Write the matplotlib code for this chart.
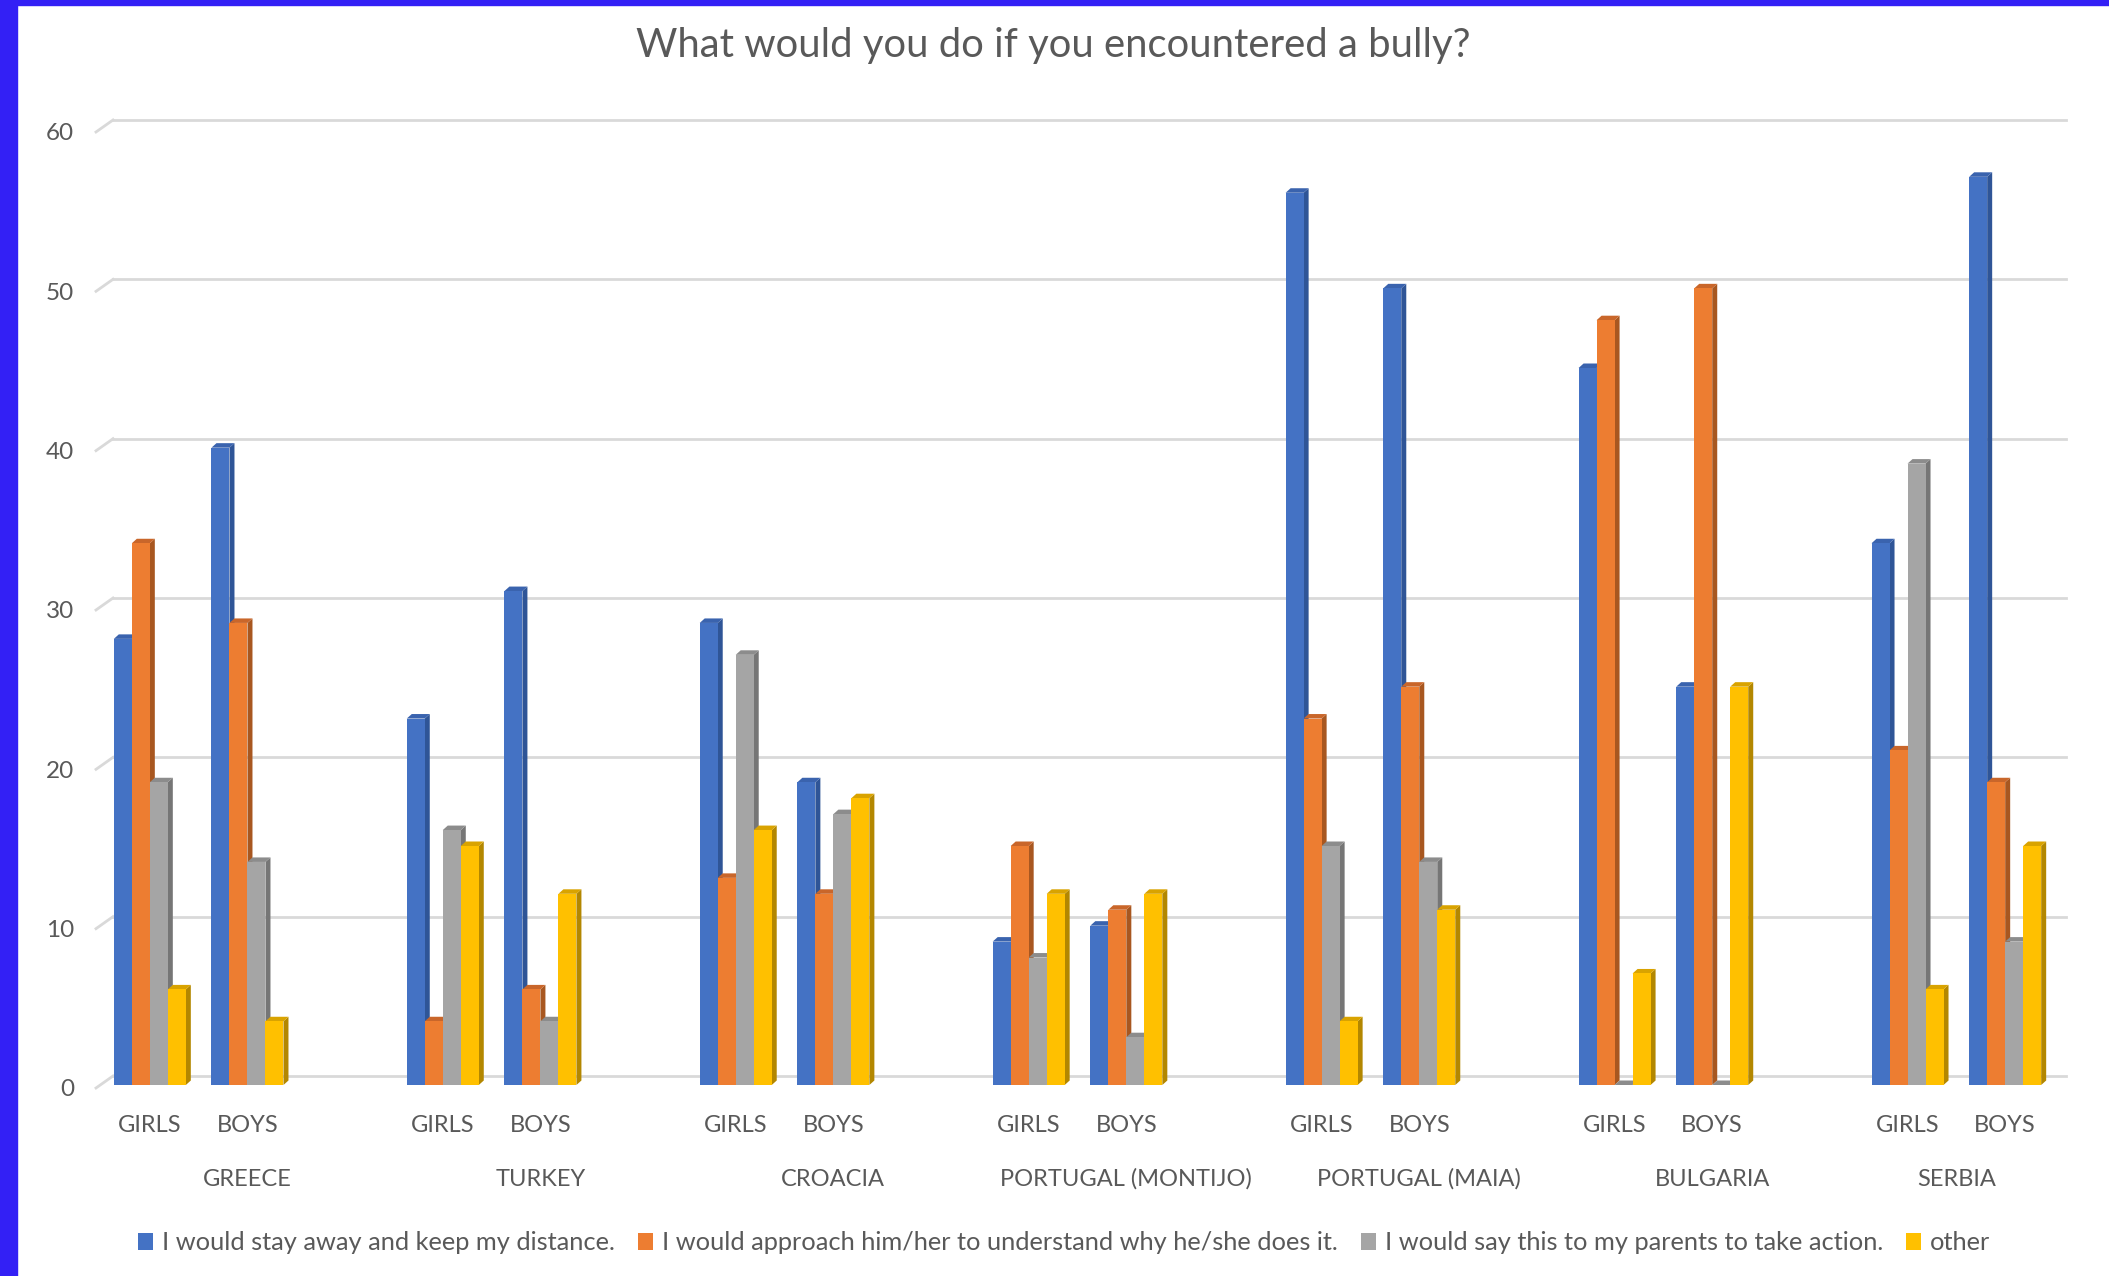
import matplotlib
matplotlib.use('Agg')
import matplotlib.pyplot as plt
from matplotlib.patches import Polygon, Rectangle

plt.rcParams['font.family'] = ['Lato', 'DejaVu Sans']

# data: girls / boys per country
countries = ['GREECE', 'TURKEY', 'CROACIA', 'PORTUGAL (MONTIJO)',
             'PORTUGAL (MAIA)', 'BULGARIA', 'SERBIA']
genders = ['GIRLS', 'BOYS']
answers = ['I would stay away and keep my distance.',
           'I would approach him/her to understand why he/she does it.',
           'I would say this to my parents to take action.',
           'other']

stay_away = [28, 40, 23, 31, 29, 19, 9, 10, 56, 50, 45, 25, 34, 57]
approach = [34, 29, 4, 6, 13, 12, 15, 11, 23, 25, 48, 50, 21, 19]
tell_parents = [19, 14, 16, 4, 27, 17, 8, 3, 15, 14, 0, 0, 39, 9]
other = [6, 4, 15, 12, 16, 18, 12, 12, 4, 11, 7, 25, 6, 15]
series = [stay_away, approach, tell_parents, other]

front_colors = ['#4472C4', '#ED7D31', '#A5A5A5', '#FFC000']
side_colors = ['#2F5597', '#A85720', '#767676', '#B38700']
top_colors = ['#3A63AE', '#C9662A', '#8C8C8C', '#D9A300']
text_color = '#595959'
grid_color = '#D9D9D9'

W, H = 2109, 1276
fig = plt.figure(figsize=(W / 100, H / 100), dpi=100)
fig.patch.set_facecolor('white')

# blue frame on the left and top of the screenshot
fig.patches.append(Rectangle((0, 0), 17 / W, 1, transform=fig.transFigure,
                             color='#3320F5', zorder=10))
fig.patches.append(Rectangle((0, 1 - 5 / H), 1, 5 / H, transform=fig.transFigure,
                             color='#3320F5', zorder=10))

ax = fig.add_axes([101 / W, 191 / H, 1953 / W, 956 / H])
n_slots = 3 * len(countries) - 1
ax.set_xlim(-0.5, n_slots - 0.5)
ax.set_ylim(0, 60)
ax.axis('off')

ux = 1953 / n_slots   # px per slot
uy = 956 / 60         # px per unit

# back wall grid with the short slanted floor edge
back_dx, back_dy = 12 / ux, 9 / uy
for y in range(0, 61, 10):
    ax.plot([-0.5 + back_dx, n_slots - 0.5 + back_dx], [y + back_dy] * 2,
            color=grid_color, lw=2, clip_on=False, zorder=1)
    ax.plot([-0.5 - 5 / ux, -0.5 + back_dx], [y - 3 / uy, y + back_dy],
            color=grid_color, lw=2, clip_on=False, zorder=1)
    ax.text(-0.5 - 27 / ux, y - 5 / uy, str(y), ha='right', va='center',
            fontsize=17.5, color=text_color)

# bars with a shallow 3D side and top
bar_w = 18 / ux
dx, dy = 5 / ux, 4.5 / uy
slots = [3 * c + g for c in range(len(countries)) for g in range(2)]
handles = []
z = 2
for k, x in enumerate(slots):
    for j, vals in enumerate(series):
        h = vals[k]
        x0 = x + (j - 2) * bar_w
        x1 = x0 + bar_w
        side = Polygon([(x1, 0), (x1 + dx, dy), (x1 + dx, h + dy), (x1, h)],
                       closed=True, color=side_colors[j], lw=0, zorder=z)
        top = Polygon([(x0, h), (x0 + dx, h + dy), (x1 + dx, h + dy), (x1, h)],
                      closed=True, color=top_colors[j], lw=0, zorder=z)
        ax.add_patch(side)
        ax.add_patch(top)
        side.set_clip_on(False)
        top.set_clip_on(False)
        b = ax.bar(x0, h, width=bar_w, align='edge', color=front_colors[j],
                   lw=0, zorder=z + 1, label=answers[j] if k == 0 else None)
        if k == 0:
            handles.append(b)
        z += 2

# category labels: gender row and country row
for k, x in enumerate(slots):
    ax.text(x, -41 / uy, genders[k % 2], ha='center', va='center',
            fontsize=17, color=text_color)
for c, name in enumerate(countries):
    span = [3 * c, 3 * c + 1] + ([3 * c + 2] if c < len(countries) - 1 else [])
    ax.text(sum(span) / len(span), -94 / uy, name, ha='center', va='center',
            fontsize=17, color=text_color)

fig.text(1053 / W, 1 - 46 / H, 'What would you do if you encountered a bully?',
         ha='center', va='center', fontsize=28.8, color=text_color)

fig.legend(handles=handles, labels=answers, loc='center',
           bbox_to_anchor=(1064 / W, 1 - 1243 / H), ncol=4, frameon=False,
           fontsize=18.3, labelcolor=text_color, handlelength=0.6,
           handleheight=0.6, handletextpad=0.35, columnspacing=0.9)

fig.savefig('out.png', dpi=100)
